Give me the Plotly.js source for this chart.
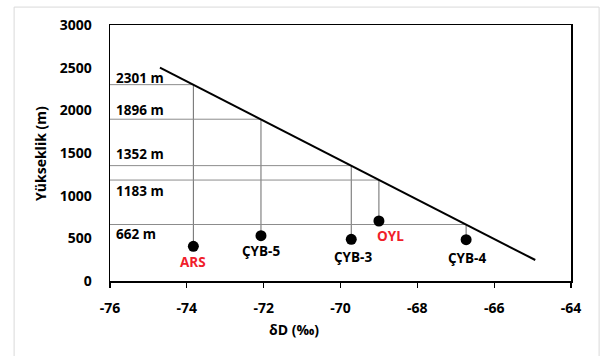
<!DOCTYPE html>
<html><head><meta charset="utf-8">
<script src="https://cdn.plot.ly/plotly-3.0.1.min.js"></script>
<style>body{margin:0;background:#fff}#chart{width:603px;height:356px}</style>
</head><body><div id="chart"></div>
<script>
// Sample points
const pointNames = ['ARS', 'ÇYB-5', 'ÇYB-3', 'OYL', 'ÇYB-4'];
const pointD = [-73.83, -72.07, -69.72, -69.0, -66.73];
const pointElev = [406, 531, 489, 703, 484];
const pointColors = ['#f0202a', '#000000', '#000000', '#f0202a', '#000000'];
// Estimated recharge elevations on the regression line
const rechargeElev = [2301, 1896, 1352, 1183, 662];
const rechargeLabels = ['2301 m', '1896 m', '1352 m', '1183 m', '662 m'];
// Regression line endpoints
const lineD = [-74.7, -64.93];
const lineElev = [2500, 246];
// Label positions (data coords)
const nameLabelD = [-73.83, -72.07, -69.67, -68.71, -66.70];
const nameLabelElev = [223, 352, 281, 528, 270];
const elevLabelElev = [2380, 2005, 1489, 1059, 551];
// Tick labels
const xTickVals = [-76, -74, -72, -70, -68, -66, -64];
const xTickText = ['-76', '-74', '-72', '-70', '-68', '-66', '-64'];
const yTickVals = [0, 500, 1000, 1500, 2000, 2500, 3000];
const yTickText = ['0', '500', '1000', '1500', '2000', '2500', '3000'];

const xMin = -76;
const traces = [];
for (let i = 0; i < pointD.length; i++) {
  traces.push({x: [xMin, pointD[i]], y: [rechargeElev[i], rechargeElev[i]], mode: 'lines',
    line: {color: '#8c8c8c', width: 1}, hoverinfo: 'skip', showlegend: false});
  traces.push({x: [pointD[i], pointD[i]], y: [rechargeElev[i], pointElev[i]], mode: 'lines',
    line: {color: '#6a6a6a', width: 1}, hoverinfo: 'skip', showlegend: false});
}
traces.push({x: lineD, y: lineElev, mode: 'lines', line: {color: '#000', width: 2}, showlegend: false});
traces.push({x: pointD, y: pointElev, mode: 'markers', marker: {color: '#000', size: 11}, showlegend: false});

const font = "'Open Sans', sans-serif";
const annotations = [];
for (let i = 0; i < pointNames.length; i++) {
  annotations.push({x: nameLabelD[i], y: nameLabelElev[i], text: '<b>' + pointNames[i] + '</b>', showarrow: false,
    xanchor: 'center', yanchor: 'middle', font: {family: font, size: 13.5, color: pointColors[i]}});
  annotations.push({x: -75.9, y: elevLabelElev[i], text: '<b>' + rechargeLabels[i] + '</b>', showarrow: false,
    xanchor: 'left', yanchor: 'middle', font: {family: font, size: 13.5, color: '#000'}});
}
annotations.push({xref: 'paper', yref: 'paper', x: 0.399, y: -0.191, text: '<b>δD (‰)</b>', showarrow: false,
  xanchor: 'center', yanchor: 'middle', font: {family: font, size: 14, color: '#000'}});
annotations.push({xref: 'paper', yref: 'paper', x: -0.152, y: 0.5, text: '<b>Yükseklik (m)</b>', showarrow: false,
  textangle: -90, xanchor: 'center', yanchor: 'middle', font: {family: font, size: 14, color: '#000'}});

const layout = {
  width: 603, height: 356,
  margin: {l: 110, r: 32, t: 25, b: 75},
  paper_bgcolor: '#fff', plot_bgcolor: '#fff',
  showlegend: false,
  xaxis: {range: [-76, -64], tickmode: 'array', tickvals: xTickVals, ticktext: xTickText,
    showgrid: false, zeroline: false,
    showline: true, linecolor: '#000', linewidth: 1.5, mirror: true,
    ticks: 'outside', ticklen: 5, tickcolor: '#000', tickwidth: 1.2,
    ticklabelstandoff: 9,
    tickfont: {family: font, size: 14, color: '#000', weight: 'bold'}},
  yaxis: {range: [0, 3000], tickmode: 'array', tickvals: yTickVals, ticktext: yTickText,
    showgrid: false, zeroline: false,
    showline: true, linecolor: '#000', linewidth: 1.5, mirror: true,
    ticks: '', ticklabelstandoff: 14,
    tickfont: {family: font, size: 14, color: '#000', weight: 'bold'}},
  annotations: annotations,
  shapes: [{type: 'rect', xref: 'paper', yref: 'paper', x0: -0.208, x1: 1.061, y0: -0.33, y1: 1.070,
    line: {color: '#d9d9d9', width: 1}, layer: 'below'}]
};
Plotly.newPlot('chart', traces, layout, {displayModeBar: false, staticPlot: true});
</script></body></html>
